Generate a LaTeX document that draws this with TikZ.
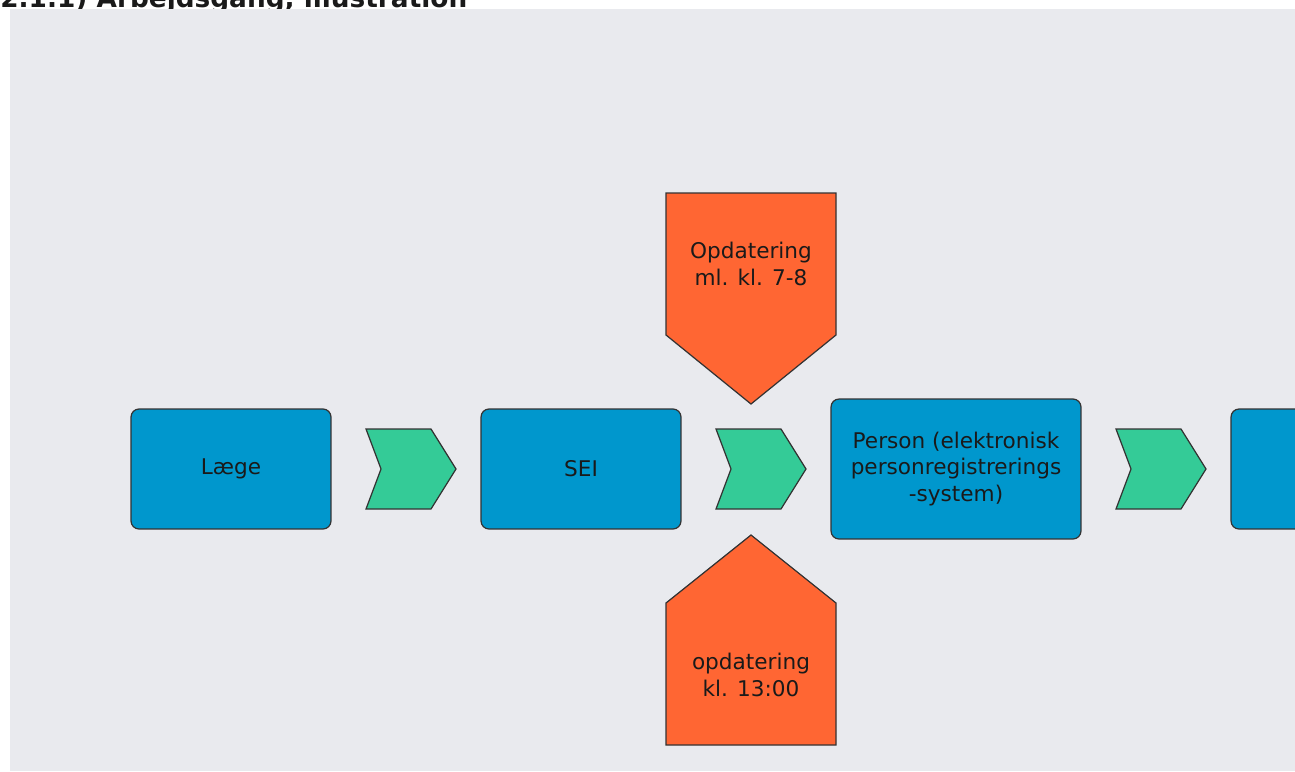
\documentclass[tikz,border=0pt]{standalone}
\usepackage{fontspec}
\setmainfont{DejaVu Sans}
\usetikzlibrary{positioning}

\definecolor{panelgrey}{HTML}{E9EAEE}
\definecolor{stepblue}{HTML}{0097CD}
\definecolor{flowgreen}{HTML}{34CB97}
\definecolor{timeorange}{HTML}{FF6633}
\definecolor{edgegrey}{HTML}{333333}
\definecolor{inkgrey}{HTML}{1A1A1A}

\tikzset{
  stepbox/.style={draw=edgegrey, fill=stepblue, rounded corners=0.16cm,
    minimum width=4cm, minimum height=2.4cm, align=center, inner sep=0pt,
    text=inkgrey, font=\fontsize{12.3}{15.3}\selectfont, line width=0.7pt},
  chev/.style={draw=edgegrey, fill=flowgreen, line width=0.7pt},
  timetag/.style={draw=edgegrey, fill=timeorange, line width=0.7pt},
  tagtext/.style={align=center, text=inkgrey, font=\fontsize{12.3}{15.3}\selectfont},
}

\begin{document}
\begin{tikzpicture}[x=0.02cm, y=-0.02cm]
    \useasboundingbox (0,0) rectangle (1295,771);
    \clip (0,0) rectangle (1295,771);
    % heading, cut off by the panel
    \node[anchor=base west, inner sep=0pt, text=inkgrey,
      font=\fontsize{15}{18}\selectfont\bfseries] (heading) at (0,7)
      {2.1.1) Arbejdsgang, illustration};
    \fill[panelgrey] (10,9) rectangle (1295,771);

    % process steps
    \node[stepbox] (laege) at (231,469) {Læge};
    \node[stepbox] (sei) at (581,469) {SEI};
    \node[stepbox, minimum width=5cm, minimum height=2.8cm] (person) at (956,469)
      {Person (elektronisk\\personregistrerings\\-system)};
    \node[stepbox] (next) at (1331,469) {};

    % chevrons between the steps
    \foreach \x in {366,716,1116}
      \draw[chev] (\x,429) -- ++(65,0) -- ++(25,40) -- ++(-25,40) -- ++(-65,0) -- ++(15,-40) -- cycle;

    % update times
    \draw[timetag] (666,193) -- (836,193) -- (836,335) -- (751,404) -- (666,335) -- cycle;
    \node[tagtext] (morning) at (751,264) {Opdatering\\ml. kl. 7-8};
    \draw[timetag] (751,535) -- (836,603) -- (836,745) -- (666,745) -- (666,603) -- cycle;
    \node[tagtext] (noon) at (751,675) {opdatering\\kl. 13:00};
\end{tikzpicture}
\end{document}
